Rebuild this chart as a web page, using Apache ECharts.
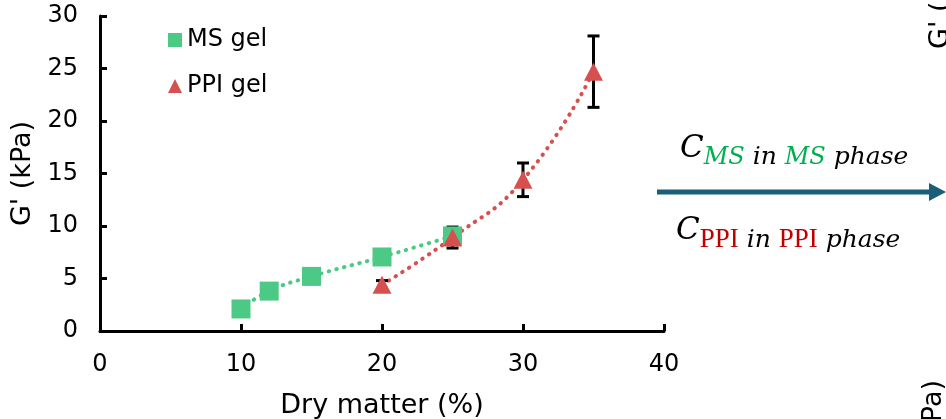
<!DOCTYPE html>
<html>
<head>
<meta charset="utf-8">
<script src="https://cdn.jsdelivr.net/npm/echarts@6/dist/echarts.min.js"></script>
<style>
  html, body { margin: 0; padding: 0; background: #fff; }
  #chart { width: 946px; height: 419px; }
</style>
</head>
<body>
<div id="chart"></div>
<script>
// Storage modulus of the single-component gels vs. dry matter
const dryMatterMS = [10, 12, 15, 20, 25];
const gPrimeMS = [2.1, 3.8, 5.2, 7.05, 9.05];
const dryMatterPPI = [20, 25, 30, 35];
const gPrimePPI = [4.4, 8.9, 14.4, 24.7];
const sdPPI = [0.4, 1.0, 1.6, 3.4];
const seriesNames = ['MS gel', 'PPI gel'];
const xAxisTitle = 'Dry matter (%)';
const yAxisTitle = "G' (kPa)";

const GREEN = '#4cc985';
const RED = '#d65050';
const FONT = '"DejaVu Sans", Verdana, sans-serif';
const SERIF = '"DejaVu Serif", serif';

const msPoints = dryMatterMS.map((x, i) => [x, gPrimeMS[i]]);
const ppiPoints = dryMatterPPI.map((x, i) => [x, gPrimePPI[i]]);
const ppiErr = dryMatterPPI.map((x, i) => [x, gPrimePPI[i], sdPPI[i]]);

const chart = echarts.init(document.getElementById('chart'), null, { renderer: 'canvas' });

const axisCommon = {
  axisLine: { show: true, lineStyle: { color: '#000', width: 3 } },
  axisTick: { show: true, inside: true, length: 7, lineStyle: { color: '#000', width: 3 } },
  splitLine: { show: false },
  axisLabel: { color: '#000', fontSize: 24, fontFamily: FONT },
  nameTextStyle: { color: '#000', fontSize: 27, fontFamily: FONT }
};

const dotted = { width: 4, type: [0.5, 7.5], cap: 'round' };

chart.setOption({
  animation: false,
  backgroundColor: '#fff',
  textStyle: { fontFamily: FONT },
  grid: { left: 100, top: 16, right: 282, bottom: 88, containLabel: false, outerBoundsMode: 'none' },
  legend: {
    orient: 'vertical',
    left: 163,
    top: 23,
    itemWidth: 14,
    itemHeight: 14,
    itemGap: 22,
    textStyle: { color: '#000', fontSize: 24, fontFamily: FONT },
    data: [
      { name: seriesNames[0], icon: 'rect' },
      { name: seriesNames[1], icon: 'triangle' }
    ]
  },
  xAxis: Object.assign({}, axisCommon, {
    type: 'value', min: 0, max: 40, interval: 10,
    name: xAxisTitle, nameLocation: 'middle', nameGap: 61,
    axisLabel: Object.assign({}, axisCommon.axisLabel, { margin: 22 })
  }),
  yAxis: Object.assign({}, axisCommon, {
    type: 'value', min: 0, max: 30, interval: 5,
    name: yAxisTitle, nameLocation: 'middle', nameGap: 53, nameRotate: 90,
    axisLabel: Object.assign({}, axisCommon.axisLabel, { margin: 22 })
  }),
  series: [
    {
      name: 'MS trend', type: 'line', data: msPoints, smooth: true,
      showSymbol: false, lineStyle: Object.assign({ color: GREEN }, dotted), z: 2
    },
    {
      name: 'PPI trend', type: 'line', data: ppiPoints, smooth: true,
      showSymbol: false, lineStyle: Object.assign({ color: RED }, dotted), z: 2
    },
    {
      name: 'PPI error', type: 'custom', data: ppiErr, z: 3,
      encode: { x: 0, y: 1 },
      renderItem: function (params, api) {
        const x = api.value(0), y = api.value(1), e = api.value(2);
        const top = api.coord([x, y + e]);
        const bot = api.coord([x, y - e]);
        const hw = 6;
        const st = { stroke: '#000', lineWidth: 3 };
        return {
          type: 'group',
          children: [
            { type: 'line', shape: { x1: top[0], y1: top[1], x2: bot[0], y2: bot[1] }, style: st },
            { type: 'line', shape: { x1: top[0] - hw, y1: top[1], x2: top[0] + hw, y2: top[1] }, style: st },
            { type: 'line', shape: { x1: bot[0] - hw, y1: bot[1], x2: bot[0] + hw, y2: bot[1] }, style: st }
          ]
        };
      }
    },
    {
      name: seriesNames[0], type: 'scatter', data: msPoints, symbol: 'rect',
      symbolSize: 19, itemStyle: { color: GREEN, opacity: 1 }, z: 4
    },
    {
      name: seriesNames[1], type: 'scatter', data: ppiPoints, symbol: 'triangle',
      symbolSize: [19, 18], itemStyle: { color: RED, opacity: 1 }, z: 5
    }
  ],
  graphic: [
    // process arrow
    { type: 'line', shape: { x1: 657, y1: 192, x2: 932, y2: 192 },
      style: { stroke: '#1b5e7a', lineWidth: 5 } },
    { type: 'polygon', shape: { points: [[929, 183], [946, 192], [929, 201]] },
      style: { fill: '#1b5e7a' } },
    // concentration labels above and below the arrow
    {
      type: 'text', x: 680, y: 170,
      style: {
        text: '{c|C}{g|MS}{t| in }{g|MS}{t| phase}',
        textAlign: 'left', textVerticalAlign: 'bottom',
        rich: {
          c: { fontFamily: SERIF, fontStyle: 'italic', fontSize: 31, lineHeight: 31, padding: [0, 0, 6, 0], verticalAlign: 'bottom', fill: '#000', color: '#000' },
          g: { fontFamily: SERIF, fontStyle: 'italic', fontSize: 24, lineHeight: 24, verticalAlign: 'bottom', fill: '#00b050', color: '#00b050' },
          t: { fontFamily: SERIF, fontStyle: 'italic', fontSize: 25, lineHeight: 24, verticalAlign: 'bottom', fill: '#000', color: '#000' }
        }
      }
    },
    {
      type: 'text', x: 676, y: 253,
      style: {
        text: '{c|C}{r|PPI}{t| in }{r|PPI}{t| phase}',
        textAlign: 'left', textVerticalAlign: 'bottom',
        rich: {
          c: { fontFamily: SERIF, fontStyle: 'italic', fontSize: 31, lineHeight: 31, padding: [0, 0, 7, 0], verticalAlign: 'bottom', fill: '#000', color: '#000' },
          r: { fontFamily: '"Liberation Serif", serif', fontSize: 27, lineHeight: 24, verticalAlign: 'bottom', fill: '#c00000', color: '#c00000' },
          t: { fontFamily: SERIF, fontStyle: 'italic', fontSize: 25, lineHeight: 24, verticalAlign: 'bottom', fill: '#000', color: '#000' }
        }
      }
    },
    // neighbouring panels' axis titles at the right edge
    {
      type: 'text', x: 941, y: 49, rotation: Math.PI / 2,
      style: { text: yAxisTitle, fontFamily: FONT, fontSize: 27, fill: '#000', textAlign: 'left', textVerticalAlign: 'middle' }
    },
    {
      type: 'text', x: 934, y: 380, rotation: Math.PI / 2,
      style: { text: yAxisTitle, fontFamily: FONT, fontSize: 27, fill: '#000', textAlign: 'right', textVerticalAlign: 'middle' }
    }
  ]
});
</script>
</body>
</html>
